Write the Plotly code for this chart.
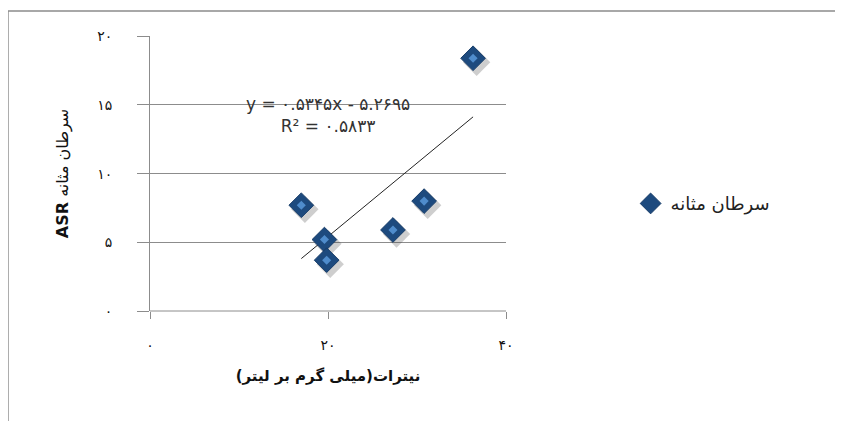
import plotly.graph_objects as go

# nitrate (mg/L) vs bladder cancer ASR
nitrate = [17.0, 19.6, 19.85, 27.3, 30.8, 36.3]
asr = [7.7, 5.2, 3.7, 5.9, 8.0, 18.4]

slope = 0.5345
intercept = -5.2695
trend_x = [min(nitrate), max(nitrate)]
trend_y = [slope * v + intercept for v in trend_x]

x_ticks = [0, 20, 40]
x_tick_labels = ["۰", "۲۰", "۴۰"]
y_ticks = [0, 5, 10, 15, 20]
y_tick_labels = ["۰", "۵", "۱۰", "۱۵", "۲۰"]

series_name = "سرطان مثانه"
eq_text = "y = ۰.۵۳۴۵x - ۵.۲۶۹۵<br>R² = ۰.۵۸۳۳"

FONT = "DejaVu Sans, Tahoma, sans-serif"
GRID = "#8c8c8c"

fig = go.Figure()

# soft drop shadow under the markers
fig.add_trace(go.Scatter(
    x=[v + 0.4 for v in nitrate], y=[v - 0.3 for v in asr],
    mode="markers", showlegend=False, hoverinfo="skip",
    marker=dict(symbol="diamond", size=21, color="rgba(60,60,60,0.25)", line=dict(width=0)),
))
fig.add_trace(go.Scatter(
    x=trend_x, y=trend_y, mode="lines", showlegend=False,
    line=dict(color="#222222", width=1),
))
fig.add_trace(go.Scatter(
    x=nitrate, y=asr, mode="markers", name=series_name,
    marker=dict(symbol="diamond", size=19, color="#1d4a7e",
                line=dict(color="#173c68", width=1)),
))
fig.add_trace(go.Scatter(
    x=nitrate, y=asr, mode="markers", showlegend=False, hoverinfo="skip",
    marker=dict(symbol="diamond", size=7, color="#4f8ccc", line=dict(width=0)),
))

fig.add_annotation(
    x=0.5, y=0.713, xref="paper", yref="paper", xanchor="center", yanchor="middle",
    text=eq_text, showarrow=False,
    font=dict(family=FONT, size=17, color="#333333"), align="center",
)

# chart-area border (only top/left visible in frame)
fig.add_shape(type="rect", xref="paper", yref="paper",
              x0=-0.399, x1=2.0, y0=-0.5, y1=1.091,
              line=dict(color=GRID, width=1.5), layer="below")
# x-axis baseline
fig.add_shape(type="line", xref="paper", yref="paper", x0=0, x1=1, y0=0, y1=0,
              line=dict(color=GRID, width=1))

fig.update_layout(
    width=843, height=421,
    margin=dict(l=142, r=345, t=28, b=118),
    plot_bgcolor="white", paper_bgcolor="white",
    font=dict(family=FONT, size=13, color="#111111"),
    showlegend=True,
    legend=dict(x=1.35, y=0.39, xanchor="left", yanchor="middle",
                font=dict(family=FONT, size=18, color="#222222"),
                bgcolor="rgba(0,0,0,0)"),
)
fig.update_xaxes(
    range=[0, 40], tickvals=x_ticks, ticktext=x_tick_labels,
    showgrid=False, zeroline=False, showline=False,
    ticks="outside", ticklen=7, tickcolor=GRID,
    ticklabelstandoff=14, tickfont=dict(size=14),
    title=dict(text="<b>نیترات(میلی گرم بر لیتر)</b>", standoff=18,
               font=dict(family=FONT, size=15)),
)
fig.update_yaxes(
    range=[0, 20.02], tickvals=y_ticks, ticktext=y_tick_labels,
    showgrid=True, gridcolor=GRID, gridwidth=1,
    zeroline=False, showline=True, linecolor=GRID, linewidth=1,
    ticks="outside", ticklen=12, tickcolor=GRID,
    ticklabelstandoff=22, tickfont=dict(size=14),
    title=dict(text="<b>ASR</b> سرطان مثانه", standoff=24,
               font=dict(family=FONT, size=16)),
)

fig.write_html("out.html")
